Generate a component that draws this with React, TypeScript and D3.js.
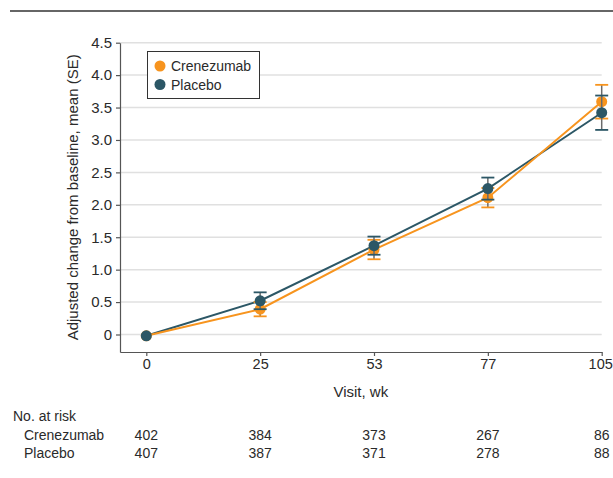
import React, { useRef, useEffect } from 'react';
import * as d3 from 'd3';

// visits (weeks) and group means with standard errors
const weeks = [0, 25, 53, 77, 105];
const crenezumabMean = [-0.02, 0.39, 1.31, 2.11, 3.59];
const crenezumabSE = [0, 0.11, 0.15, 0.15, 0.26];
const placeboMean = [-0.02, 0.52, 1.37, 2.25, 3.42];
const placeboSE = [0, 0.13, 0.14, 0.17, 0.265];

const yTicks = [0, 0.5, 1, 1.5, 2, 2.5, 3, 3.5, 4, 4.5];

const crenezumabAtRisk = [402, 384, 373, 267, 86];
const placeboAtRisk = [407, 387, 371, 278, 88];

const ORANGE = '#F7941E';
const TEAL = '#2C5766';
const TEXT = '#2a2a2a';
const FONT = '"Liberation Sans", Arial, sans-serif';

const App = () => {
  const ref = useRef<SVGSVGElement>(null);

  useEffect(() => {
    const svg = d3.select(ref.current);
    svg.selectAll('*').remove();

    const left = 120;
    const right = 601.7;
    const top = 42.7;
    const bottom = 352;

    const x = d3.scalePoint<number>().domain(weeks).range([left, right]).padding(0.1155).align(1);
    const y = d3.scaleLinear().domain([-0.27, 4.5]).range([bottom, top]);

    // top rule
    svg.append('line')
      .attr('x1', 10).attr('x2', 613).attr('y1', 11).attr('y2', 11)
      .attr('stroke', '#333').attr('stroke-width', 1.5);

    // gridlines
    svg.append('g').selectAll('line').data(yTicks).join('line')
      .attr('x1', left).attr('x2', right)
      .attr('y1', d => y(d)).attr('y2', d => y(d))
      .attr('stroke', '#e0e0e0').attr('stroke-width', 1.5);

    // axes
    const yAxis = svg.append('g')
      .attr('transform', `translate(${left},0)`)
      .call(d3.axisLeft(y).tickValues(yTicks).tickSize(4).tickSizeOuter(0).tickPadding(4)
        .tickFormat(d => (d === 0 ? '0' : d3.format('.1f')(d as number))));
    const xAxis = svg.append('g')
      .attr('transform', `translate(0,${bottom})`)
      .call(d3.axisBottom(x).tickSize(4).tickSizeOuter(0).tickPadding(3));
    [yAxis, xAxis].forEach(g => {
      g.selectAll('path, line').attr('stroke', '#555').attr('stroke-width', 1.2);
      g.selectAll('text').attr('fill', TEXT).style('font-family', FONT).style('font-size', '15px');
    });
    // keep the last week label inside the page
    xAxis.selectAll('text').style('font-size', '14.5px')
      .filter(d => d === weeks[weeks.length - 1]).attr('dx', -1.5);

    // axis titles
    svg.append('text')
      .attr('transform', `translate(78,${(top + bottom) / 2}) rotate(-90)`)
      .attr('text-anchor', 'middle')
      .style('font-family', FONT).style('font-size', '15px').attr('fill', TEXT)
      .text('Adjusted change from baseline, mean (SE)');
    svg.append('text')
      .attr('x', (left + right) / 2).attr('y', 397)
      .attr('text-anchor', 'middle')
      .style('font-family', FONT).style('font-size', '15px').attr('fill', TEXT)
      .text('Visit, wk');

    const series = [
      { name: 'Placebo', mean: placeboMean, se: placeboSE, color: TEAL },
      { name: 'Crenezumab', mean: crenezumabMean, se: crenezumabSE, color: ORANGE },
    ];
    const line = d3.line<number>().x((_, i) => x(weeks[i]) as number).y(d => y(d));

    series.forEach(s => {
      svg.append('path')
        .attr('d', line(s.mean))
        .attr('fill', 'none').attr('stroke', s.color).attr('stroke-width', 2);
    });

    // error bars and points, placebo drawn on top
    [series[1], series[0]].forEach(s => {
      const g = svg.append('g');
      weeks.forEach((w, i) => {
        const cx = x(w) as number;
        if (s.se[i] > 0) {
          const lo = y(s.mean[i] - s.se[i]);
          const hi = y(s.mean[i] + s.se[i]);
          g.append('line').attr('x1', cx).attr('x2', cx).attr('y1', lo).attr('y2', hi)
            .attr('stroke', '#6b6b6b').attr('stroke-width', 1.5);
          [lo, hi].forEach(yy => {
            g.append('line').attr('x1', cx - 6.5).attr('x2', cx + 6.5).attr('y1', yy).attr('y2', yy)
              .attr('stroke', s.color).attr('stroke-width', 1.8);
          });
        }
        g.append('circle').attr('cx', cx).attr('cy', y(s.mean[i])).attr('r', 5.5).attr('fill', s.color);
      });
    });

    // legend
    const lg = svg.append('g');
    lg.append('rect')
      .attr('x', 147.5).attr('y', 51.5).attr('width', 112).attr('height', 47)
      .attr('fill', '#fff').attr('stroke', '#333').attr('stroke-width', 1);
    [series[1], series[0]].forEach((s, i) => {
      lg.append('circle').attr('cx', 160).attr('cy', 66 + i * 18.5).attr('r', 5.5).attr('fill', s.color);
      lg.append('text').attr('x', 171).attr('y', 71 + i * 18.5)
        .style('font-family', FONT).style('font-size', '14px').attr('fill', TEXT)
        .text(s.name);
    });

    // number at risk table
    const risk = svg.append('g').style('font-family', FONT).style('font-size', '14px').attr('fill', TEXT);
    risk.append('text').attr('x', 13).attr('y', 421).text('No. at risk');
    [
      { name: 'Crenezumab', values: crenezumabAtRisk },
      { name: 'Placebo', values: placeboAtRisk },
    ].forEach((row, r) => {
      const yy = 440 + r * 18;
      risk.append('text').attr('x', 24).attr('y', yy).text(row.name);
      row.values.forEach((v, i) => {
        risk.append('text').attr('x', x(weeks[i]) as number).attr('y', yy)
          .attr('text-anchor', 'middle').text(v);
      });
    });
  }, []);

  return <svg ref={ref} width="613" height="478" style={{ position: 'absolute', left: 0, top: 0 }}></svg>;
};

export default App;
